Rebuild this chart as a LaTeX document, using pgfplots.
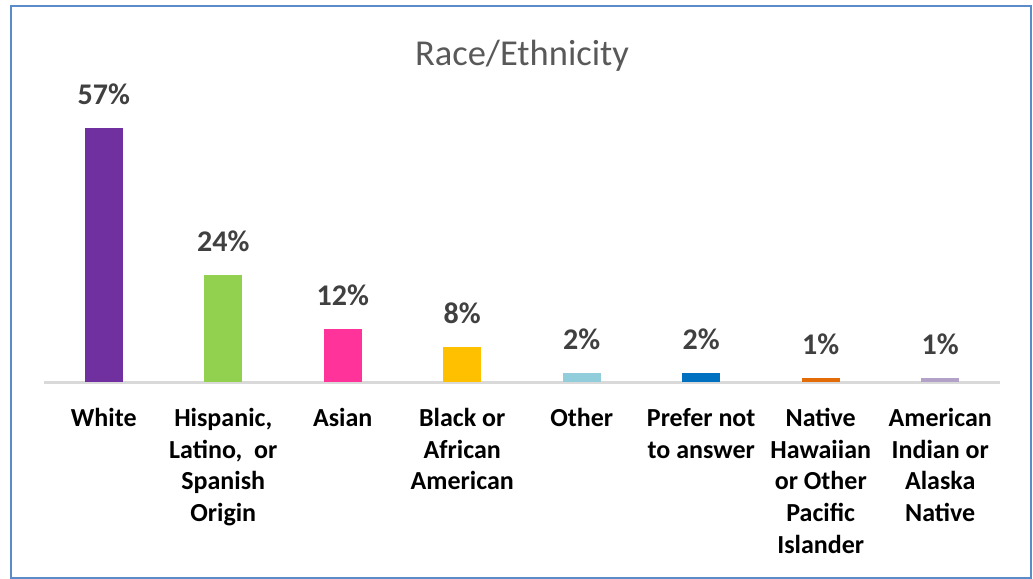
\documentclass[border=0pt]{standalone}
\usepackage{pgfplots}
\pgfplotsset{compat=1.18}
\usepackage{fontspec}
\setmainfont{Carlito}
\definecolor{cWhite}{HTML}{7030A0}
\definecolor{cHisp}{HTML}{92D050}
\definecolor{cAsian}{HTML}{FF3399}
\definecolor{cBlack}{HTML}{FFC000}
\definecolor{cOther}{HTML}{92CDDC}
\definecolor{cPrefer}{HTML}{0070C0}
\definecolor{cNative}{HTML}{E36C09}
\definecolor{cAmInd}{HTML}{B3A2C7}
\definecolor{border}{HTML}{5B8BC9}
\definecolor{lab}{HTML}{404040}
\definecolor{ttl}{HTML}{595959}
\definecolor{axl}{HTML}{D9D9D9}
\begin{document}
\begin{tikzpicture}
\path[use as bounding box] (0,0) rectangle (1033bp,579bp);
\draw[border, line width=1.6bp] (11bp,1bp) rectangle (1031bp,573bp);
\begin{axis}[
  at={(44bp,196.7bp)}, anchor=south west,
  scale only axis, width=956bp, height=267.4bp,
  ymin=0, ymax=60, xmin=-0.5, xmax=7.5,
  ybar, bar width=38bp, bar shift=0pt,
  clip=false,
  /pgf/number format/assume math mode=true,
  axis lines*=left,
  y axis line style={draw=none},
  x axis line style={draw=axl, line width=2.5bp},
  ytick=\empty,
  xtick={0,1,2,3,4,5,6,7},
  major tick length=0pt,
  xticklabels={
    {\strut White},
    {\strut Hispanic,\\Latino,~ or\\Spanish\\Origin},
    {\strut Asian},
    {\strut Black or\\African\\American},
    {\strut Other},
    {\strut Prefer not\\to answer},
    {\strut Native\\Hawaiian\\or Other\\Pacific\\Islander},
    {\strut American\\Indian or\\Alaska\\Native}},
  xticklabel style={align=center, anchor=north, inner sep=0pt, yshift=-21.8bp,
    font=\fontsize{26bp}{31.7bp}\selectfont\bfseries, text=black},
  title={Race/Ethnicity},
  every axis title shift=0pt,
  title style={at={(0.5,1)}, anchor=base, yshift=49.2bp, inner sep=0pt,
    font=\fontsize{36.5bp}{44bp}\selectfont, text=ttl},
  nodes near coords={\pgfmathprintnumber[fixed,precision=0,assume math mode=true]{\pgfplotspointmeta}\%},
  nodes near coords style={font=\fontsize{30bp}{36bp}\selectfont\bfseries, text=lab,
    anchor=base, yshift=23.5bp, inner sep=0pt},
]
\addplot[fill=cWhite, draw=none] coordinates {(0,57)};
\addplot[fill=cHisp, draw=none] coordinates {(1,24)};
\addplot[fill=cAsian, draw=none] coordinates {(2,12)};
\addplot[fill=cBlack, draw=none] coordinates {(3,8)};
\addplot[fill=cOther, draw=none] coordinates {(4,2)};
\addplot[fill=cPrefer, draw=none] coordinates {(5,2)};
\addplot[fill=cNative, draw=none] coordinates {(6,1)};
\addplot[fill=cAmInd, draw=none] coordinates {(7,1)};
\end{axis}
\end{tikzpicture}
\end{document}
